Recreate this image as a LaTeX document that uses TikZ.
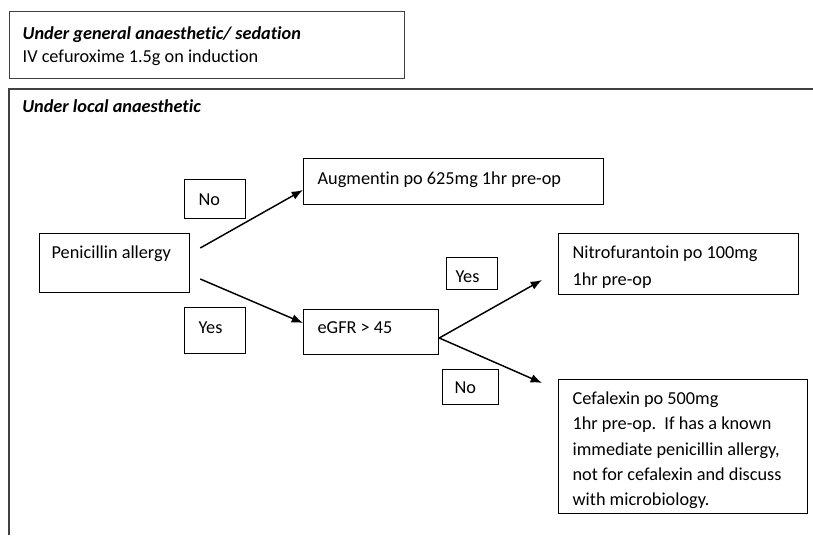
\documentclass[tikz,border=0pt]{standalone}
\usepackage{fontspec}
\setmainfont[Ligatures=NoCommon]{Carlito}
\usetikzlibrary{arrows.meta,calc}
\newcommand{\bt}[5]{\parbox[c][\dimexpr 0.75pt*#2\relax][t]{\dimexpr 0.75pt*#1\relax}{\raggedright\leftskip=\dimexpr 0.75pt*#4\relax\rule{0pt}{\dimexpr 0.75pt*#3\relax}#5}}
\begin{document}
\begin{tikzpicture}[x=0.75pt,y=-0.75pt, font=\fontsize{13.7}{18.6}\selectfont,
  bx/.style={draw=black, line width=0.95pt, inner sep=0pt, anchor=north west},
  frame/.style={draw=black!75, line width=1pt},
  arr/.style={-{Latex[length=8.5pt,width=6.5pt]}, line width=1.1pt}]
\useasboundingbox (0,0) rectangle (813,535);
\node[bx, frame] (ga) at (9,11) {\bt{395}{67}{28}{13}{\textbf{\textit{Under general anaesthetic/ sedation}}\\[-1.6pt]IV cefuroxime 1.5g on induction}};
\draw[frame] (9,535) -- (9,89) -- (813,89);
\node[anchor=base west, inner sep=0pt] (la) at (22,112) {\textbf{\textit{Under local anaesthetic}}};
\node[bx] (aug) at (303,158) {\bt{300}{46}{26}{14}{Augmentin po 625mg 1hr pre-op}};
\node[bx] (no1) at (184,179) {\bt{61}{39}{26}{14}{No}};
\node[bx] (pen) at (39,233) {\bt{150}{59}{25}{12}{Penicillin allergy}};
\node[bx] (yes1) at (184,307) {\bt{61}{46}{26}{14}{Yes}};
\node[bx] (egfr) at (303,309) {\bt{135}{45}{24}{14}{eGFR > 45}};
\node[bx] (yes2) at (446,257) {\bt{51}{32}{25}{9}{Yes}};
\node[bx] (no2) at (442,369) {\bt{56}{35}{24}{12}{No}};
\node[bx] (nitro) at (558,233) {\bt{240}{61}{25}{14}{Nitrofurantoin po 100mg\\[1.5pt]1hr pre-op}};
\node[bx] (cef) at (558,379) {\bt{249}{134}{25}{14}{Cefalexin po 500mg\\[0.4pt]1hr pre-op.\ \ If has a known\\[0.4pt]immediate penicillin allergy,\\[0.4pt]not for cefalexin and discuss\\[0.4pt]with microbiology.}};
\draw[arr] ($(pen.north east)+(10,15)$) -- ($(aug.north west)+(0,32)$);
\draw[arr] ($(pen.north east)+(10,46)$) -- ($(egfr.north west)+(0,14)$);
\coordinate (split) at ($(egfr.north east)+(0,29)$);
\draw[arr] (split) -- ($(nitro.north west)+(-16,47)$);
\draw[arr] (split) -- ($(cef.north west)+(-16,4)$);
\end{tikzpicture}
\end{document}
